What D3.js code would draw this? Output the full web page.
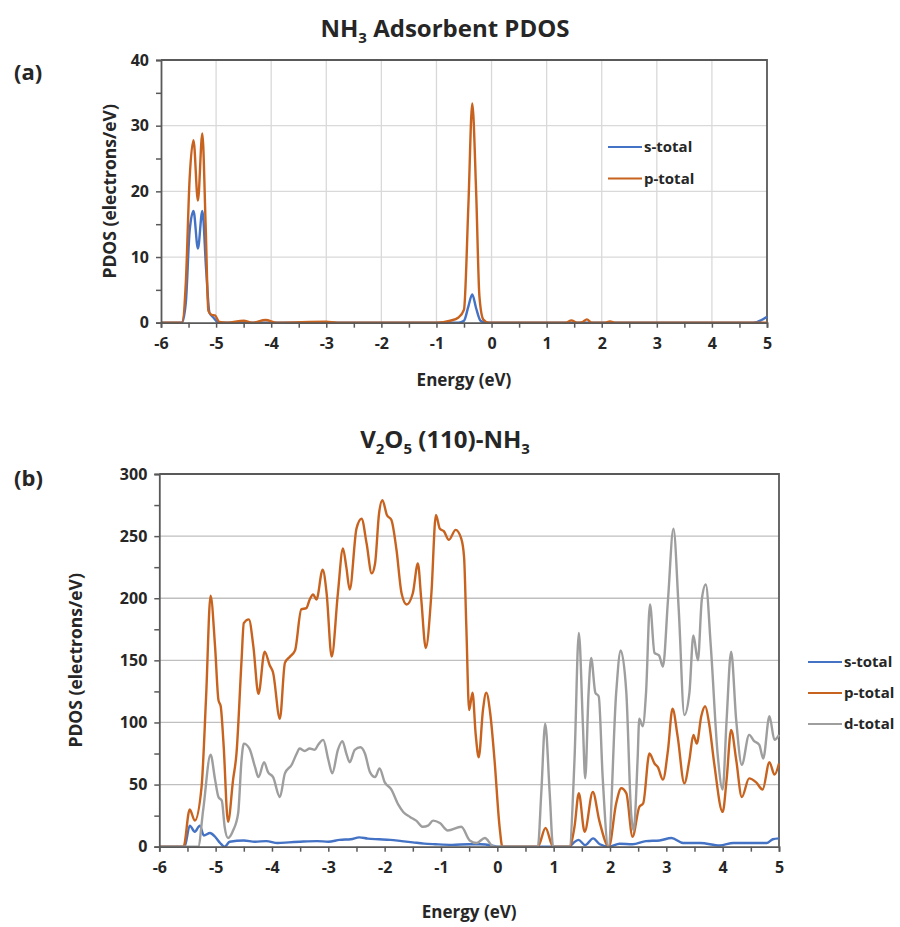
<!DOCTYPE html>
<html>
<head>
<meta charset="utf-8">
<script src="https://cdn.jsdelivr.net/npm/d3@7"></script>
<style>
  body { margin: 0; background: #fff; }
  svg text { font-family: "Open Sans", "Liberation Sans", sans-serif; font-weight: 700; fill: #262626; }
</style>
</head>
<body>
<script>
const W = 900, H = 927;

// ---- panel (a): NH3 adsorbent PDOS ----
const aSE = [-6, -5.62, -5.55, -5.48, -5.41, -5.33, -5.25, -5.18, -5.12, -5.05, -4.95, -4.8, -0.6, -0.5, -0.42, -0.35, -0.28, -0.2, -0.1, 4.75, 4.9, 5];
const aSV = [0, 0, 3, 14, 17, 11.3, 17, 8, 1.5, 0.8, 0, 0, 0, 0.3, 2.5, 4.3, 2.2, 0.3, 0, 0, 0.4, 0.9];
const aPE = [-6, -5.62, -5.55, -5.48, -5.41, -5.33, -5.25, -5.19, -5.14, -5.08, -5.02, -4.94, -4.8, -4.5, -4.35, -4.1, -3.9, -3, -2.8, -1, -0.75, -0.6, -0.5, -0.42, -0.35, -0.28, -0.22, -0.15, -0.05, 1.35, 1.45, 1.55, 1.65, 1.73, 1.82, 2.05, 2.15, 2.25, 5];
const aPV = [0, 0, 6, 22, 27.8, 18.6, 28.8, 15, 1.8, 1.2, 1.1, 0.1, 0, 0.3, 0, 0.4, 0, 0.15, 0, 0, 0.3, 0.8, 2, 18, 33.4, 20, 4, 0.5, 0, 0, 0.35, 0, 0.1, 0.5, 0, 0, 0.2, 0, 0];

// ---- panel (b): V2O5 (110)-NH3 ----
const bSE = [-6, -5.55, -5.46, -5.37, -5.28, -5.21, -5.10, -5.01, -4.92, -4.84, -4.75, -4.5, -4.3, -4.1, -3.9, -3.7, -3.5, -3.2, -3.0, -2.8, -2.6, -2.45, -2.3, -2.1, -1.9, -1.7, -1.5, -1.3, -1.1, -0.8, -0.5, -0.3, -0.1, 0, 1.28, 1.35, 1.44, 1.56, 1.70, 1.82, 1.99, 2.17, 2.40, 2.64, 2.88, 3.09, 3.30, 3.60, 3.95, 4.19, 4.54, 4.78, 4.89, 5.0];
const bSV = [0, 0, 17, 12, 17, 9, 11, 8, 3, 0, 4, 5, 4, 4.5, 3, 3.5, 4, 4.5, 4, 5.5, 6, 7.5, 6.5, 6, 5.5, 4.5, 3.5, 2.5, 2, 1.5, 2, 2, 1, 0, 0, 3, 5.5, 1.3, 6.7, 2, 0, 2.4, 2, 4.5, 5, 7, 3, 3, 1, 3, 3, 3, 6, 6.7];

const bPE = [-6, -5.57, -5.46, -5.37, -5.25, -5.17, -5.09, -5.01, -4.95, -4.91, -4.86, -4.78, -4.69, -4.63, -4.54, -4.50, -4.41, -4.33, -4.24, -4.13, -4.04, -3.98, -3.86, -3.77, -3.68, -3.59, -3.48, -3.39, -3.33, -3.27, -3.21, -3.10, -3.03, -2.94, -2.83, -2.74, -2.68, -2.62, -2.50, -2.41, -2.32, -2.23, -2.17, -2.10, -2.04, -1.96, -1.88, -1.79, -1.70, -1.61, -1.50, -1.41, -1.35, -1.27, -1.17, -1.09, -1.02, -0.95, -0.86, -0.74, -0.64, -0.59, -0.55, -0.50, -0.44, -0.385, -0.33, -0.255, -0.196, -0.125, -0.05, 0.04, 0.09, 0.72, 0.856, 0.99, 1.28, 1.37, 1.447, 1.55, 1.695, 1.81, 1.98, 2.11, 2.20, 2.29, 2.40, 2.52, 2.59, 2.70, 2.79, 2.85, 2.94, 3.03, 3.11, 3.20, 3.32, 3.41, 3.48, 3.54, 3.62, 3.69, 3.76, 3.85, 4.00, 4.07, 4.15, 4.24, 4.34, 4.47, 4.59, 4.71, 4.83, 4.92, 5.0];
const bPV = [0, 0, 30, 21, 48, 120, 202, 161, 118, 113, 83, 20, 54, 75, 150, 180, 183, 161, 123, 157, 146, 140, 103, 148, 153, 158, 191, 192, 199, 203, 199, 223, 204, 153, 204, 240, 225, 207, 256, 264, 244, 220, 228, 268, 279, 267, 263, 239, 204, 195, 204, 228, 199, 160, 204, 267, 256, 254, 247, 255, 248, 233, 177, 110, 124, 91, 72, 110, 124, 107, 70, 16, 0, 0, 15, 0, 0, 16, 43, 12, 44, 21, 0, 35, 47, 43, 8, 32, 35, 75, 67, 64, 54, 78, 111, 89, 51, 70, 90, 83, 105, 113, 99, 67, 28, 54, 94, 70, 40, 55, 52, 46, 68, 58, 67];

const bDE = [-6, -5.31, -5.22, -5.09, -5.01, -4.95, -4.89, -4.84, -4.78, -4.69, -4.60, -4.54, -4.50, -4.40, -4.30, -4.24, -4.14, -4.07, -3.98, -3.86, -3.77, -3.65, -3.56, -3.51, -3.42, -3.33, -3.24, -3.18, -3.09, -3.00, -2.93, -2.83, -2.75, -2.68, -2.62, -2.53, -2.43, -2.35, -2.26, -2.17, -2.09, -2.00, -1.88, -1.76, -1.67, -1.55, -1.44, -1.32, -1.23, -1.14, -1.02, -0.88, -0.64, -0.49, -0.37, -0.22, -0.08, 0, 0.72, 0.78, 0.85, 0.93, 0.99, 1.28, 1.37, 1.447, 1.52, 1.56, 1.62, 1.666, 1.74, 1.80, 1.87, 1.97, 2.11, 2.19, 2.29, 2.375, 2.42, 2.49, 2.52, 2.58, 2.64, 2.71, 2.79, 2.87, 2.94, 3.03, 3.126, 3.22, 3.32, 3.41, 3.48, 3.56, 3.63, 3.70, 3.79, 3.91, 4.00, 4.07, 4.15, 4.24, 4.34, 4.47, 4.56, 4.65, 4.72, 4.83, 4.92, 5.0];
const bDV = [0, 0, 30, 74, 54, 40, 37, 16, 7, 13, 27, 70, 83, 79, 64, 56, 68, 60, 56, 40, 59, 66, 75, 79, 77, 79, 78, 82, 86, 70, 59, 78, 85, 75, 68, 78, 80, 75, 60, 56, 63, 52, 46, 34, 28, 24, 21, 16, 17, 21, 19, 13, 16, 5, 3, 7, 0.5, 0, 0, 43, 99, 43, 0, 0, 70, 172, 97, 55, 124, 152, 124, 121, 56, 0, 124, 158, 124, 27, 13, 70, 103, 97, 124, 195, 156, 154, 145, 199, 256, 191, 106, 124, 170, 150, 199, 211, 161, 75, 46, 102, 157, 102, 66, 90, 85, 82, 71, 105, 86, 90];

const xTicks = d3.range(-6, 5.01, 0.5);
const colS = '#4472C4', colP = '#C8631F', colD = '#9E9E9E';

const svg = d3.select('body').append('svg').attr('width', W).attr('height', H);

function pairs(xs, ys) { return xs.map((x, i) => [x, ys[i]]); }

function panel(o) {
  const x = d3.scaleLinear().domain([-6, 5]).range([o.x0, o.x1]);
  const y = d3.scaleLinear().domain([0, o.yMax]).range([o.y1, o.y0]);
  const g = svg.append('g');

  // grid
  g.selectAll('.hg').data(d3.range(o.yStep, o.yMax, o.yStep)).enter().append('line')
    .attr('x1', o.x0).attr('x2', o.x1).attr('y1', d => y(d)).attr('y2', d => y(d))
    .attr('stroke', o.gridCol).attr('stroke-width', 1.3);
  if (o.vGrid) {
    g.selectAll('.vg').data(d3.range(-5, 5, 1)).enter().append('line')
      .attr('y1', o.y0).attr('y2', o.y1).attr('x1', d => x(d)).attr('x2', d => x(d))
      .attr('stroke', o.gridCol).attr('stroke-width', 1.3);
  }
  // top and right frame
  g.append('path').attr('d', `M${o.x0},${o.y0}H${o.x1}V${o.y1}`)
    .attr('fill', 'none').attr('stroke', '#595959').attr('stroke-width', 1.8);

  // series
  const line = d3.line().x(d => x(d[0])).y(d => y(d[1])).curve(d3.curveMonotoneX);
  o.series.forEach(s => {
    g.append('path').datum(pairs(s.e, s.v)).attr('d', line)
      .attr('fill', 'none').attr('stroke', s.c).attr('stroke-width', 2.4)
      .attr('stroke-linejoin', 'round');
  });

  // axes
  const xa = g.append('g').attr('transform', `translate(0,${o.y1})`)
    .call(d3.axisBottom(x).tickValues(xTicks).tickSize(5).tickPadding(10)
      .tickFormat(d => Number.isInteger(d) ? d : ''));
  const ya = g.append('g').attr('transform', `translate(${o.x0},0)`)
    .call(d3.axisLeft(y).tickValues(d3.range(0, o.yMax + 0.1, o.yStep / 2)).tickSize(5).tickPadding(7)
      .tickFormat(d => d % o.yStep === 0 ? d : ''));
  [xa, ya].forEach(a => {
    a.select('.domain').attr('stroke', '#595959').attr('stroke-width', 1.8);
    a.selectAll('.tick line').attr('stroke', '#595959').attr('stroke-width', 1.5);
    a.selectAll('.tick text').style('font-size', '16px').attr('fill', '#262626')
      .style('font-family', '"Open Sans", sans-serif').style('font-weight', 700);
  });

  // labels
  g.append('text').attr('x', (o.x0 + o.x1) / 2).attr('y', o.xLabY).attr('text-anchor', 'middle')
    .style('font-size', '17px').text('Energy (eV)');
  g.append('text').attr('transform', `translate(${o.yLabX},${(o.y0 + o.y1) / 2}) rotate(-90)`)
    .attr('text-anchor', 'middle').style('font-size', '17.5px').text('PDOS (electrons/eV)');

  // legend
  o.series.forEach((s, i) => {
    const ly = o.legY + i * o.legGap;
    g.append('line').attr('x1', o.legX).attr('x2', o.legX + 34).attr('y1', ly).attr('y2', ly)
      .attr('stroke', s.c).attr('stroke-width', 2.2);
    g.append('text').attr('x', o.legX + 36).attr('y', ly + 5).style('font-size', '15px').text(s.n);
  });
}

panel({
  x0: 161, x1: 767, y0: 60, y1: 322.7, yMax: 40, yStep: 10, vGrid: true, gridCol: '#d9d9d9',
  xLabY: 386, yLabX: 116, legX: 608, legY: 147, legGap: 31.5,
  series: [{ n: 's-total', e: aSE, v: aSV, c: colS }, { n: 'p-total', e: aPE, v: aPV, c: colP }]
});

panel({
  x0: 159.3, x1: 779, y0: 474, y1: 846.7, yMax: 300, yStep: 50, vGrid: false, gridCol: '#bfbfbf',
  xLabY: 918, yLabX: 82, legX: 808, legY: 662, legGap: 31,
  series: [{ n: 's-total', e: bSE, v: bSV, c: colS }, { n: 'p-total', e: bPE, v: bPV, c: colP }, { n: 'd-total', e: bDE, v: bDV, c: colD }]
});

// titles
const t1 = svg.append('text').attr('x', 445).attr('y', 37).attr('text-anchor', 'middle').style('font-size', '24px');
t1.append('tspan').text('NH');
t1.append('tspan').attr('dy', 6).style('font-size', '15px').text('3');
t1.append('tspan').attr('dy', -6).text(' Adsorbent PDOS');

const t2 = svg.append('text').attr('x', 445).attr('y', 448).attr('text-anchor', 'middle').style('font-size', '24px');
t2.append('tspan').text('V');
t2.append('tspan').attr('dy', 6).style('font-size', '15px').text('2');
t2.append('tspan').attr('dy', -6).text('O');
t2.append('tspan').attr('dy', 6).style('font-size', '15px').text('5');
t2.append('tspan').attr('dy', -6).text(' (110)-NH');
t2.append('tspan').attr('dy', 6).style('font-size', '15px').text('3');

svg.append('text').attr('x', 14).attr('y', 80).style('font-size', '22px').text('(a)');
svg.append('text').attr('x', 14).attr('y', 486).style('font-size', '22px').text('(b)');
</script>
</body>
</html>
